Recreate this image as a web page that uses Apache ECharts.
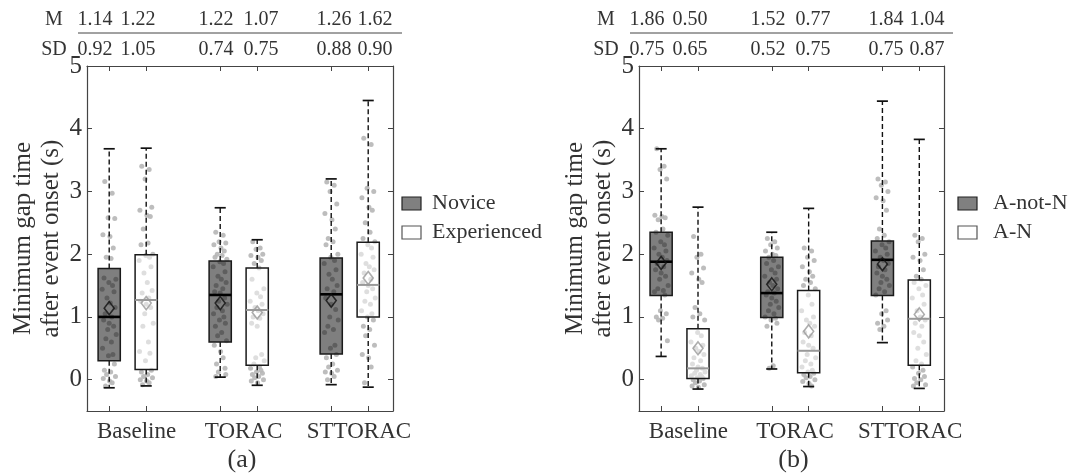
<!DOCTYPE html>
<html>
<head>
<meta charset="utf-8">
<script src="https://cdn.jsdelivr.net/npm/echarts@6/dist/echarts.min.js"></script>
<style>
html, body { margin: 0; padding: 0; background: #fff; }
#chart { width: 1071px; height: 475px; }
</style>
</head>
<body>
<div id="chart"></div>
<script>
"use strict";

var groups = ['Baseline', 'TORAC', 'STTORAC'];
var positions = [1, 2, 4, 5, 7, 8];
var labelPos = [1.74, 4.63, 7.75];
var yTicks = [0, 1, 2, 3, 4, 5];

// box stats per box: [min, q1, median, q3, max]
var statsA = [
  [-0.13, 0.30, 1.00, 1.77, 3.68],
  [-0.10, 0.16, 1.27, 1.99, 3.69],
  [0.04, 0.60, 1.35, 1.89, 2.74],
  [-0.09, 0.23, 1.11, 1.78, 2.23],
  [-0.08, 0.41, 1.36, 1.94, 3.20],
  [-0.12, 1.00, 1.51, 2.19, 4.45]
];
var meanA = [1.14, 1.22, 1.22, 1.07, 1.26, 1.62];
var sdA = [0.92, 1.05, 0.74, 0.75, 0.88, 0.90];

var statsB = [
  [0.37, 1.34, 1.88, 2.35, 3.68],
  [-0.15, 0.02, 0.18, 0.81, 2.75],
  [0.17, 0.99, 1.38, 1.95, 2.35],
  [-0.11, 0.11, 0.46, 1.42, 2.73],
  [0.59, 1.34, 1.91, 2.21, 4.44],
  [-0.14, 0.23, 0.97, 1.59, 3.83]
];
var meanB = [1.86, 0.50, 1.52, 0.77, 1.84, 1.04];
var sdB = [0.75, 0.65, 0.52, 0.75, 0.75, 0.87];

var ptsA = [
  [3.16, 2.97, 2.58, 2.57, 2.31, 2.28, 2.1, 1.95, 1.93, 1.62, 1.6, 1.55, 1.5, 1.44, 1.4, 1.3, 1.22, 1.15, 1.05, 1.0,
   0.95, 0.9, 0.85, 0.8, 0.72, 0.65, 0.6, 0.5, 0.4, 0.38, 0.25, 0.15, 0.12, 0.08, 0.05, 0.02, -0.02, -0.05, -0.1],
  [3.4, 3.35, 3.2, 2.75, 2.7, 2.62, 2.6, 2.4, 2.18, 2.15, 2.0, 1.98, 1.95, 1.9, 1.8, 1.7, 1.55, 1.42, 1.38, 1.3,
   1.25, 1.2, 1.15, 1.05, 0.9, 0.85, 0.6, 0.45, 0.42, 0.3, 0.15, 0.12, 0.08, 0.05, 0.03, 0.0, -0.02, -0.05, -0.08],
  [2.35, 2.3, 2.2, 2.18, 2.15, 2.1, 2.05, 2.0, 1.98, 1.95, 1.92, 1.88, 1.85, 1.8, 1.72, 1.65, 1.6, 1.55, 1.5, 1.45,
   1.4, 1.38, 1.3, 1.25, 1.2, 1.15, 1.1, 1.05, 1.0, 0.95, 0.9, 0.85, 0.75, 0.7, 0.62, 0.55, 0.45, 0.35, 0.25, 0.18,
   0.12, 0.08, 0.05],
  [2.2, 2.1, 2.08, 2.0, 1.98, 1.95, 1.9, 1.85, 1.78, 1.6, 1.45, 1.38, 1.32, 1.25, 1.2, 1.15, 1.1, 1.05, 1.0, 0.98,
   0.9, 0.85, 0.4, 0.35, 0.3, 0.25, 0.2, 0.18, 0.15, 0.12, 0.1, 0.08, 0.05, 0.03, 0.0, -0.02, -0.05],
  [3.15, 3.1, 3.0, 2.8, 2.65, 2.55, 2.4, 2.25, 2.2, 2.15, 2.0, 1.95, 1.9, 1.85, 1.75, 1.68, 1.6, 1.5, 1.45, 1.4,
   1.3, 1.2, 1.12, 1.0, 0.95, 0.85, 0.8, 0.75, 0.55, 0.5, 0.4, 0.35, 0.25, 0.2, 0.15, 0.12, 0.1, 0.05, 0.0],
  [3.85, 3.75, 3.05, 3.0, 2.9, 2.75, 2.7, 2.5, 2.35, 2.25, 2.2, 2.15, 2.1, 2.0, 1.95, 1.85, 1.8, 1.75, 1.7, 1.6,
   1.55, 1.5, 1.45, 1.4, 1.3, 1.25, 1.2, 1.1, 1.05, 1.0, 0.95, 0.85, 0.8, 0.7, 0.55, 0.4, 0.35, 0.2, -0.05]
];
var ptsB = [
  [3.68, 3.4, 3.35, 3.2, 2.62, 2.6, 2.58, 2.55, 2.4, 2.35, 2.3, 2.2, 2.15, 2.1, 2.05, 2.0, 1.95, 1.9, 1.85, 1.8,
   1.75, 1.7, 1.65, 1.6, 1.5, 1.45, 1.42, 1.4, 1.35, 1.1, 1.05, 1.0, 0.98, 0.95, 0.62],
  [2.28, 2.0, 1.95, 1.78, 1.7, 1.6, 1.55, 1.15, 1.05, 1.0, 0.95, 0.75, 0.7, 0.6, 0.55, 0.5, 0.45, 0.4, 0.35, 0.3,
   0.25, 0.2, 0.18, 0.15, 0.12, 0.1, 0.08, 0.06, 0.05, 0.03, 0.02, 0.0, -0.02, -0.05, -0.08, -0.1, -0.12],
  [2.25, 2.2, 2.15, 2.1, 2.05, 2.0, 1.98, 1.95, 1.9, 1.85, 1.8, 1.75, 1.7, 1.65, 1.6, 1.55, 1.5, 1.45, 1.4, 1.38,
   1.35, 1.3, 1.25, 1.2, 1.15, 1.1, 1.05, 1.0, 0.98, 0.95, 0.9, 0.85, 0.22, 0.18],
  [2.1, 2.05, 1.95, 1.9, 1.8, 1.72, 1.65, 1.6, 1.55, 1.5, 1.45, 1.35, 1.2, 1.1, 1.0, 0.95, 0.9, 0.85, 0.75, 0.7,
   0.6, 0.55, 0.5, 0.4, 0.35, 0.3, 0.25, 0.2, 0.15, 0.12, 0.1, 0.08, 0.05, 0.03, 0.0, -0.03, -0.06, -0.1],
  [3.2, 3.15, 3.1, 3.0, 2.9, 2.85, 2.7, 2.4, 2.3, 2.25, 2.2, 2.15, 2.1, 2.05, 2.0, 1.95, 1.9, 1.85, 1.8, 1.75,
   1.7, 1.65, 1.6, 1.55, 1.5, 1.45, 1.4, 1.35, 1.1, 1.05, 0.95, 0.9, 0.85, 0.8],
  [2.3, 2.25, 2.2, 2.0, 1.95, 1.9, 1.75, 1.65, 1.6, 1.55, 1.5, 1.45, 1.35, 1.3, 1.2, 1.1, 1.0, 0.95, 0.9, 0.85,
   0.75, 0.7, 0.6, 0.5, 0.4, 0.3, 0.25, 0.2, 0.15, 0.1, 0.05, 0.02, 0.0, -0.05, -0.08, -0.1]
];
// horizontal scatter of the dots around each box centre
var jitter = [-0.12, 0.08, -0.03, 0.15, -0.17, 0.02, 0.11, -0.08, 0.05, -0.14, 0.18, -0.01, 0.09, -0.19, 0.13,
  -0.06, 0.03, 0.16, -0.11, 0.07, -0.15, 0.0, 0.12, -0.04, 0.19, -0.09, 0.06, -0.18, 0.1, -0.02, 0.14, -0.13,
  0.04, -0.07, 0.17, -0.16, 0.01, 0.08, -0.1, 0.13, -0.05, 0.15, -0.12];

var legendA = ['Novice', 'Experienced'];
var legendB = ['A-not-N', 'A-N'];

var font = "'Liberation Serif', 'Times New Roman', serif";
var textColor = '#333';
var axisColor = '#444';
var gridA = { left: 87, top: 66, width: 306, height: 345 };
var gridB = { left: 639, top: 66, width: 305, height: 345 };
var xMin = 0.4, xMax = 8.67;

var chart = echarts.init(document.getElementById('chart'));

var renderBox = function(params, api) {
  var pos = api.value(0);
  var lo = api.coord([pos, api.value(1)]);
  var q1 = api.coord([pos, api.value(2)]);
  var med = api.coord([pos, api.value(3)]);
  var q3 = api.coord([pos, api.value(4)]);
  var hi = api.coord([pos, api.value(5)]);
  var x = lo[0];
  var halfW = api.size([0.6, 0])[0] / 2;
  var capW = api.size([0.3, 0])[0] / 2;
  var dark = params.dataIndex % 2 === 0;
  var dash = { stroke: '#111', lineWidth: 1.4, lineDash: [5, 3] };
  var cap = { stroke: '#111', lineWidth: 1.7 };
  return {
    type: 'group',
    children: [
      { type: 'line', shape: { x1: x, y1: q3[1], x2: x, y2: hi[1] }, style: dash },
      { type: 'line', shape: { x1: x, y1: q1[1], x2: x, y2: lo[1] }, style: dash },
      { type: 'line', shape: { x1: x - capW, y1: hi[1], x2: x + capW, y2: hi[1] }, style: cap },
      { type: 'line', shape: { x1: x - capW, y1: lo[1], x2: x + capW, y2: lo[1] }, style: cap },
      {
        type: 'rect',
        shape: { x: x - halfW, y: q3[1], width: halfW * 2, height: q1[1] - q3[1] },
        style: {
          fill: dark ? 'rgba(0,0,0,0.5)' : 'rgba(255,255,255,0.5)',
          stroke: '#1a1a1a',
          lineWidth: 1.5
        }
      },
      {
        type: 'line',
        shape: { x1: x - halfW, y1: med[1], x2: x + halfW, y2: med[1] },
        style: { stroke: dark ? '#000' : '#999', lineWidth: dark ? 2.6 : 2 }
      }
    ]
  };
};

var makeSeries = function(axisIdx, stats, means, pts) {
  var dots = [];
  var boxes = [];
  var meanDark = [];
  var meanLight = [];
  for (var i = 0; i < positions.length; i++) {
    for (var j = 0; j < pts[i].length; j++) {
      dots.push([positions[i] + jitter[j % jitter.length], pts[i][j]]);
    }
    boxes.push([positions[i]].concat(stats[i]));
    if (i % 2 === 0) {
      meanDark.push([positions[i], means[i]]);
    } else {
      meanLight.push([positions[i], means[i]]);
    }
  }
  var meanStyle = function(color) {
    return {
      type: 'scatter', xAxisIndex: axisIdx, yAxisIndex: axisIdx, z: 5,
      symbol: 'diamond', symbolSize: [10, 13], silent: true,
      itemStyle: { color: 'rgba(0,0,0,0)', borderColor: color, borderWidth: 1.6 }
    };
  };
  return [
    {
      type: 'scatter', xAxisIndex: axisIdx, yAxisIndex: axisIdx, z: 2,
      symbolSize: 5, silent: true,
      itemStyle: { color: '#b6b6b6', opacity: 0.9 },
      data: dots
    },
    {
      type: 'custom', xAxisIndex: axisIdx, yAxisIndex: axisIdx, z: 3,
      renderItem: renderBox, silent: true,
      data: boxes
    },
    Object.assign(meanStyle('#111'), { data: meanDark }),
    Object.assign(meanStyle('#999'), { data: meanLight })
  ];
};

var xAxes = function(gridIndex) {
  var common = {
    gridIndex: gridIndex, type: 'value', min: xMin, max: xMax,
    axisLine: { show: true, onZero: false, lineStyle: { color: axisColor, width: 1.2 } },
    axisTick: { show: true, inside: true, length: 5, customValues: positions, lineStyle: { color: axisColor } },
    splitLine: { show: false }
  };
  var bottom = Object.assign({}, common, {
    position: 'bottom',
    axisLabel: {
      customValues: labelPos, margin: 9, fontSize: 23, fontFamily: font, color: textColor,
      formatter: function(v) { return groups[labelPos.indexOf(v)]; }
    }
  });
  var top = Object.assign({}, common, { position: 'top', axisLabel: { show: false } });
  return [bottom, top];
};

var yAxes = function(gridIndex) {
  var common = {
    gridIndex: gridIndex, type: 'value', min: -0.5, max: 5,
    axisLine: { show: true, onZero: false, lineStyle: { color: axisColor, width: 1.2 } },
    axisTick: { show: true, inside: true, length: 5, customValues: yTicks, lineStyle: { color: axisColor } },
    splitLine: { show: false }
  };
  var left = Object.assign({}, common, {
    position: 'left',
    axisLabel: { customValues: yTicks, margin: 5, fontSize: 25, fontFamily: font, color: textColor },
    name: 'Minimum gap time\nafter event onset (s)',
    nameLocation: 'middle', nameGap: 19, nameRotate: 90,
    nameTextStyle: { fontSize: 25, lineHeight: 28, fontFamily: font, color: textColor }
  });
  var right = Object.assign({}, common, { position: 'right', axisLabel: { show: false } });
  return [left, right];
};

var tableOffsets = [8, 51, 129, 174, 247, 288];
var tableGraphics = function(grid, means, sds) {
  var els = [];
  var txt = function(x, y, s) {
    return {
      type: 'text', x: x, y: y,
      style: { text: s, fontSize: 20, fontFamily: font, fill: textColor, align: 'center', verticalAlign: 'middle' }
    };
  };
  els.push(txt(grid.left - 33, 20, 'M'));
  els.push(txt(grid.left - 33, 50, 'SD'));
  for (var i = 0; i < means.length; i++) {
    els.push(txt(grid.left + tableOffsets[i], 20, means[i].toFixed(2)));
    els.push(txt(grid.left + tableOffsets[i], 50, sds[i].toFixed(2)));
  }
  els.push({
    type: 'line',
    shape: { x1: grid.left - 9, y1: 33, x2: grid.left + grid.width + 9, y2: 33 },
    style: { stroke: axisColor, lineWidth: 1 }
  });
  return els;
};

var legendGraphics = function(grid, names, gap, textGap) {
  var x = grid.left + grid.width + gap;
  var rows = [203, 232];
  var els = [];
  for (var i = 0; i < names.length; i++) {
    els.push({
      type: 'rect',
      shape: { x: x, y: rows[i] - 6, width: 19, height: 13 },
      style: { fill: i === 0 ? '#808080' : '#fff', stroke: i === 0 ? '#222' : '#555', lineWidth: 1.2 }
    });
    els.push({
      type: 'text', x: x + textGap, y: rows[i],
      style: { text: names[i], fontSize: 22, fontFamily: font, fill: textColor, verticalAlign: 'middle' }
    });
  }
  return els;
};

var panelTag = function(grid, s) {
  return {
    type: 'text', x: grid.left + grid.width / 2 + 2, y: 460,
    style: { text: s, fontSize: 26, fontFamily: font, fill: textColor, align: 'center', verticalAlign: 'middle' }
  };
};

var option = {
  animation: false,
  backgroundColor: '#fff',
  grid: [
    Object.assign({ containLabel: false }, gridA),
    Object.assign({ containLabel: false }, gridB)
  ],
  xAxis: xAxes(0).concat(xAxes(1)),
  yAxis: yAxes(0).concat(yAxes(1)),
  series: [],
  graphic: []
};

// axis indices: panel a uses x/y 0 (plus mirrors 1), panel b uses x/y 2 (plus mirrors 3)
option.series = makeSeries(0, statsA, meanA, ptsA).concat(makeSeries(2, statsB, meanB, ptsB));
option.graphic = tableGraphics(gridA, meanA, sdA)
  .concat(tableGraphics(gridB, meanB, sdB))
  .concat(legendGraphics(gridA, legendA, 9, 30))
  .concat(legendGraphics(gridB, legendB, 14, 35))
  .concat([panelTag(gridA, '(a)'), panelTag(gridB, '(b)')]);

chart.setOption(option);
</script>
</body>
</html>
